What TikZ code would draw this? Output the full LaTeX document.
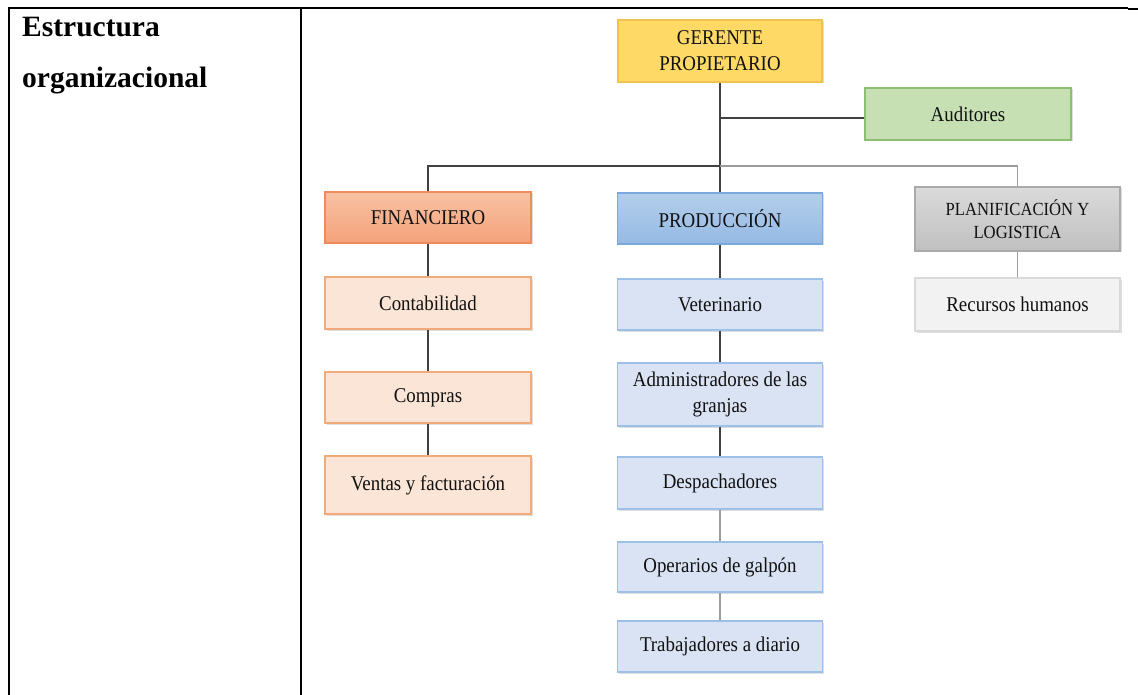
\documentclass[tikz,border=0pt]{standalone}
\usepackage{fontspec}
\setmainfont{Liberation Serif}
\newfontfamily\bxfont[FakeStretch=0.9]{Liberation Serif}
\usetikzlibrary{shadows}
\definecolor{lnDark}{HTML}{404040}
\definecolor{lnLight}{HTML}{9C9C9C}
\definecolor{goldF}{HTML}{FFD965}
\definecolor{goldD}{HTML}{F0C24E}
\definecolor{grnF}{HTML}{C6E0B4}
\definecolor{grnD}{HTML}{8DBF72}
\definecolor{orT}{HTML}{F8C2A4}
\definecolor{orB}{HTML}{F4A27A}
\definecolor{orD}{HTML}{EE8A5C}
\definecolor{orLF}{HTML}{FBE5D6}
\definecolor{orLD}{HTML}{F3AA7A}
\definecolor{blT}{HTML}{B4CEEC}
\definecolor{blB}{HTML}{95BAE3}
\definecolor{blD}{HTML}{7BA8DA}
\definecolor{blLF}{HTML}{DAE3F3}
\definecolor{blLD}{HTML}{9CC0E8}
\definecolor{gyT}{HTML}{DADADA}
\definecolor{gyB}{HTML}{C0C0C0}
\definecolor{gyD}{HTML}{AAAAAA}
\definecolor{gyLF}{HTML}{F2F2F2}
\definecolor{gyLD}{HTML}{D9D9D9}
\definecolor{txt}{HTML}{111111}
\tikzset{
  orgbox/.style={rectangle, line width=1.2pt, inner sep=2pt, align=center,
    text=txt, font=\bxfont\fontsize{21}{26}\selectfont,
    drop shadow={shadow xshift=1.5pt, shadow yshift=-1.5pt, opacity=0.25}},
  darkln/.style={draw=lnDark, line width=1.6pt},
  lightln/.style={draw=lnLight, line width=1.3pt},
  tabline/.style={draw=black, line width=2pt},
  titletext/.style={anchor=base west, inner sep=0pt, font=\bfseries\fontsize{29.5}{34}\selectfont}
}
\begin{document}
\begin{tikzpicture}[x=1pt,y=-1pt]
\useasboundingbox (0,0) rectangle (1138,695);
% table frame
\draw[tabline] (9,8) -- (315,8);
\draw[draw=black, line width=1.2pt] (315,8) -- (1128,8);
\draw[draw=black, line width=2pt] (1128,9.5) -- (1138,9.5);
\draw[tabline] (9,7) -- (9,695);
\draw[tabline] (301,8) -- (301,695);
\node[titletext] (t1) at (22,37) {Estructura};
\node[titletext] (t2) at (22,88) {organizacional};
% nodes
\node[orgbox, fill=goldF, draw=goldD, minimum width=204pt, minimum height=62pt] (ger) at (720,51) {GERENTE\\PROPIETARIO};
\node[orgbox, fill=grnF, draw=grnD, minimum width=206pt, minimum height=52pt] (aud) at (968,114) {Auditores};
\node[orgbox, top color=orT, bottom color=orB, draw=orD, minimum width=206pt, minimum height=51pt] (fin) at (428,217.5) {FINANCIERO};
\node[orgbox, top color=blT, bottom color=blB, draw=blD, minimum width=205pt, minimum height=51pt] (prod) at (720,218.5) {PRODUCCIÓN};
\node[orgbox, top color=gyT, bottom color=gyB, draw=gyD, minimum width=205pt, minimum height=64pt, font=\bxfont\fontsize{18.5}{23}\selectfont] (plan) at (1017.5,219) {PLANIFICACIÓN Y\\LOGISTICA};
\node[orgbox, fill=gyLF, draw=gyLD, minimum width=205pt, minimum height=53pt] (rrhh) at (1017.5,304.5) {Recursos humanos};
\node[orgbox, fill=orLF, draw=orLD, minimum width=206pt, minimum height=52pt] (cont) at (428,303) {Contabilidad};
\node[orgbox, fill=orLF, draw=orLD, minimum width=206pt, minimum height=51pt] (comp) at (428,397.5) {Compras};
\node[orgbox, fill=orLF, draw=orLD, minimum width=206pt, minimum height=58pt] (vent) at (428,485) {Ventas y facturación};
\node[orgbox, fill=blLF, draw=blLD, minimum width=205pt, minimum height=51pt] (vet) at (720,304.5) {Veterinario};
\node[orgbox, fill=blLF, draw=blLD, minimum width=205pt, minimum height=63pt] (adm) at (720,394.5) {Administradores de las\\granjas};
\node[orgbox, fill=blLF, draw=blLD, minimum width=205pt, minimum height=52pt] (desp) at (720,483) {Despachadores};
\node[orgbox, fill=blLF, draw=blLD, minimum width=205pt, minimum height=50pt] (oper) at (720,567) {Operarios de galpón};
\node[orgbox, fill=blLF, draw=blLD, minimum width=205pt, minimum height=51pt] (trab) at (720,646.5) {Trabajadores a diario};
% connectors
\coordinate (bus) at (720,166);
\coordinate (audj) at (720,118);
\draw[darkln] (ger.south) -- (prod.north);
\draw[darkln] (audj) -- (aud.west |- audj);
\draw[darkln] (fin.north) |- (bus);
\draw[lightln] (bus) -| (plan.north);
\draw[darkln] (fin.south) -- (cont.north);
\draw[darkln] (cont.south) -- (comp.north);
\draw[darkln] (comp.south) -- (vent.north);
\draw[darkln] (prod.south) -- (vet.north);
\draw[darkln] (vet.south) -- (adm.north);
\draw[darkln] (adm.south) -- (desp.north);
\draw[lightln] (desp.south) -- (oper.north);
\draw[lightln] (oper.south) -- (trab.north);
\draw[lightln] (plan.south) -- (rrhh.north);
\end{tikzpicture}
\end{document}
